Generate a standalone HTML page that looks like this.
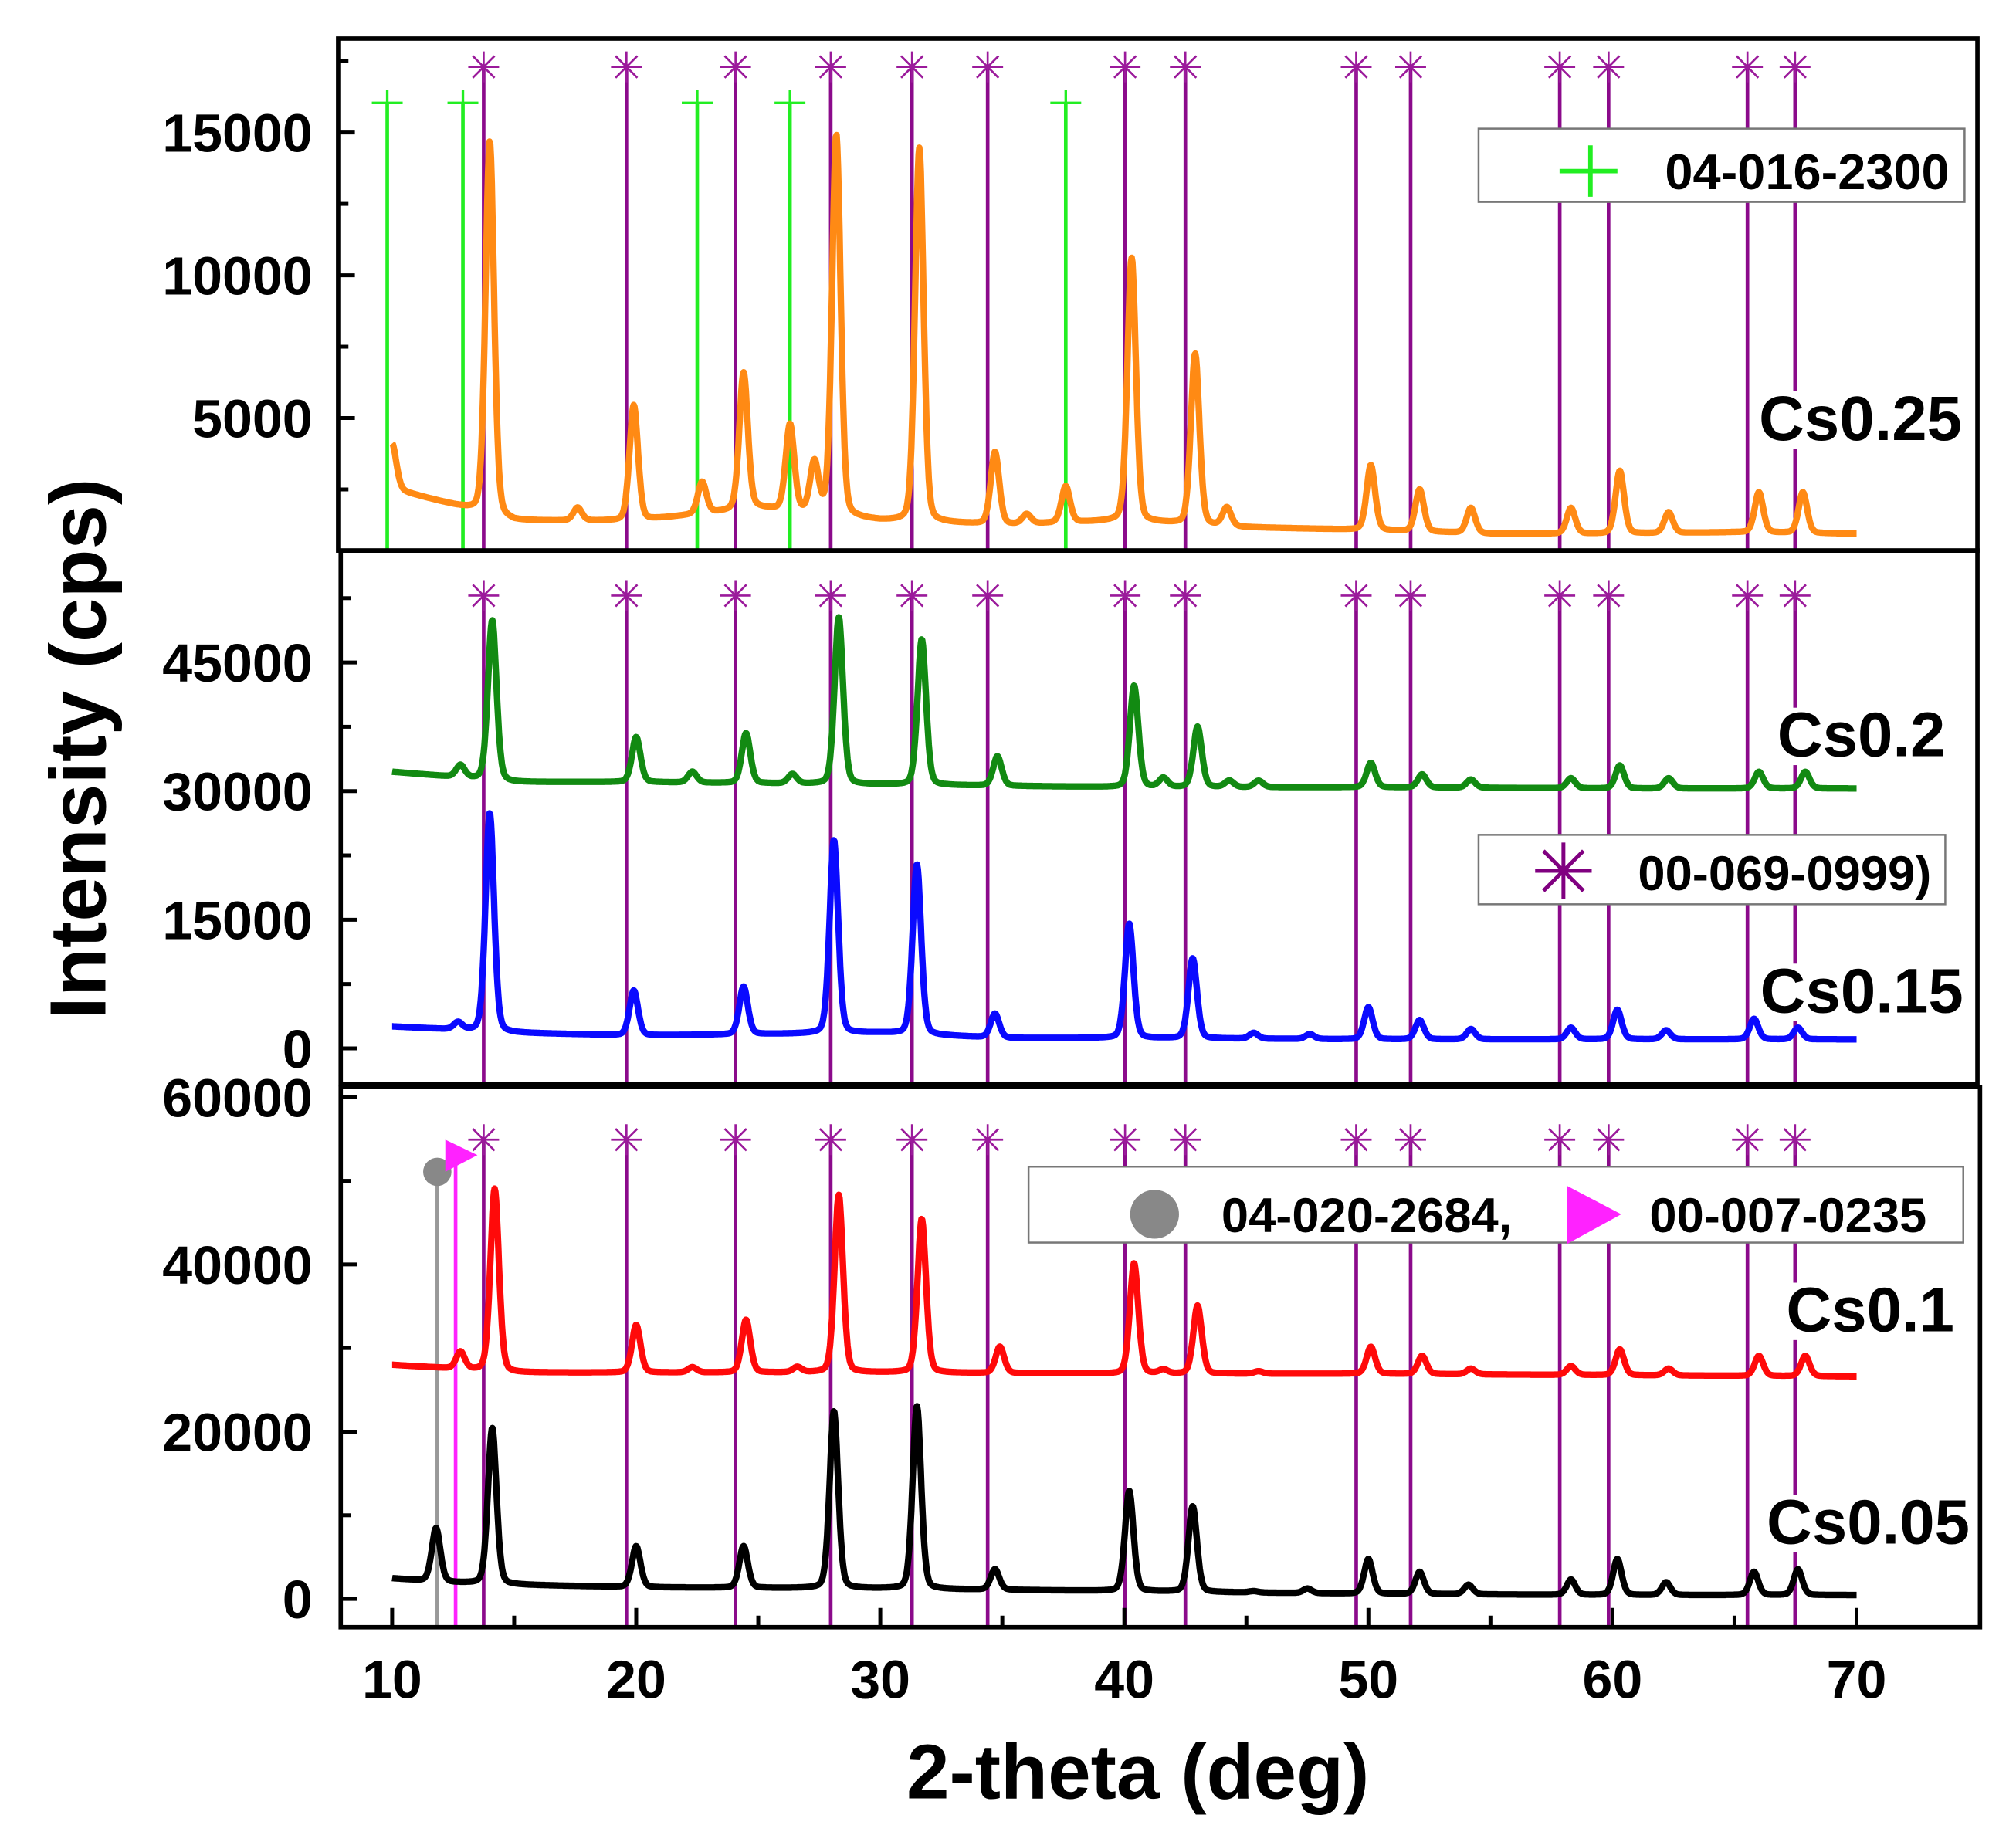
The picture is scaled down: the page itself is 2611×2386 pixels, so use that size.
<!DOCTYPE html>
<html><head><meta charset="utf-8"><style>
html,body{margin:0;padding:0;background:#fff;}
svg{display:block;font-family:"Liberation Sans",Arial,sans-serif;font-weight:bold;}
</style></head><body>
<svg id="chart" width="2611" height="2386" viewBox="0 0 1568 1432" preserveAspectRatio="none" xmlns="http://www.w3.org/2000/svg">
<defs>
<clipPath id="cTop"><rect x="263" y="30" width="1275" height="398"/></clipPath>
<clipPath id="cMid"><rect x="265" y="428" width="1273" height="415"/></clipPath>
<clipPath id="cBot"><rect x="265" y="845" width="1275" height="420"/></clipPath>
</defs>
<g id="refs"></g>
<g id="series"></g>
<g id="legends"></g>
<g id="axes"></g>
<text x="0" y="0" transform="translate(82,582) rotate(-90)" text-anchor="middle" font-size="62">Intensity (cps)</text>
<text x="885" y="1398" text-anchor="middle" font-size="60">2-theta (deg)</text>
</svg>
<script>
// ---- data ----
const xTicks = [10,20,30,40,50,60,70];
const topTicks = [5000,10000,15000];
const midTicks = [0,15000,30000,45000];
const botTicks = [0,20000,40000,60000];
const refMain = [13.75,19.6,24.07,27.97,31.3,34.4,40.03,42.5,49.5,51.73,57.84,59.84,65.53,67.48];
const refGreen = [9.8,12.9,22.5,26.3,37.6];
const refGray = [11.85];
const refMagenta = [12.6];

const cs025Base = [[10,2520],[12,2070],[15,1400],[20,1400],[25,1850],[30,1400],[35,1260],[40,1400],[45,1170],[50,1080],[55,950],[60,950],[65,1000],[70,950]];
const cs025Peaks = [[10.0,4100],[13.0,1850],[14.0,14700],[17.6,1850],[19.9,5450],[22.7,2750],[24.4,6580],[26.3,4750],[27.3,3400],[28.2,14900],[31.6,14450],[34.7,3800],[36.0,1620],[37.6,2600],[40.3,10600],[42.9,7250],[44.2,1850],[50.1,3350],[52.1,2500],[54.2,1850],[58.3,1850],[60.3,3150],[62.3,1700],[66.0,2400],[67.8,2400]];

const cs02Base = [[10,32250],[15,31050],[20,31050],[30,30750],[40,30450],[50,30450],[60,30300],[70,30300]];
const cs02Peaks = [[12.8,33000],[14.1,49950],[20.0,36300],[22.3,32250],[24.5,36750],[26.4,31950],[28.3,50250],[31.7,47700],[34.8,34050],[40.4,42300],[41.6,31500],[43.0,37500],[44.3,31200],[45.5,31200],[50.1,33300],[52.2,31950],[54.2,31350],[58.3,31500],[60.3,33000],[62.3,31500],[66.0,32250],[67.9,32250]];

const cs015Base = [[10,2550],[12,2250],[15,1800],[20,1500],[30,1800],[35,1200],[40,1200],[50,1050],[60,1050],[70,1050]];
const cs015Peaks = [[12.7,3000],[14.0,27450],[19.9,6750],[24.4,7200],[28.1,24300],[31.5,21450],[34.7,4050],[40.2,14550],[42.8,10500],[45.3,1800],[47.6,1650],[50.0,4800],[52.1,3300],[54.2,2250],[58.3,2400],[60.2,4500],[62.2,2100],[65.8,3450],[67.6,2400]];

const cs01Base = [[10,27990],[15,27070],[20,27070],[30,27070],[40,26920],[50,26920],[60,26760],[70,26610]];
const cs01Peaks = [[12.8,29530],[14.2,49070],[20.0,32760],[22.3,27690],[24.5,33380],[26.6,27690],[28.3,48300],[31.7,45450],[34.9,30150],[40.4,40150],[41.6,27380],[43.0,35070],[45.5,27220],[50.1,30150],[52.2,29070],[54.2,27530],[58.3,27840],[60.3,29840],[62.3,27530],[66.0,29070],[67.9,29070]];

const cs005Base = [[10,2460],[12,1990],[15,1690],[20,1380],[30,1230],[40,920],[50,610],[60,460],[70,460]];
const cs005Peaks = [[11.8,8460],[14.1,20460],[20.0,6300],[24.4,6300],[28.1,22450],[31.5,23070],[34.7,3540],[40.2,12920],[42.8,11070],[45.3,920],[47.5,1230],[50.0,4770],[52.1,3230],[54.1,1690],[58.3,2310],[60.2,4770],[62.2,1990],[65.8,3230],[67.6,3540]];

// ---- scales ----
const NS='http://www.w3.org/2000/svg';
const X = v => 305 + (v-10)*18.983;
const Ytop = v => 436 - v/5000*111;
const Ymid = v => 815 - v/15000*100;
const Ybot = v => 1243 - v/20000*130;

function mk(tag, attrs, parent){const e=document.createElementNS(NS,tag);for(const k in attrs)e.setAttribute(k,attrs[k]);parent.appendChild(e);return e;}
function baseAt(base,x){for(let i=0;i<base.length-1;i++){if(x<=base[i+1][0]){const t=(x-base[i][0])/(base[i+1][0]-base[i][0]);return base[i][1]+t*(base[i+1][1]-base[i][1]);}}return base[base.length-1][1];}
function profile(base,peaks,x){let v=baseAt(base,x);for(const p of peaks){const a=p[1]-baseAt(base,p[0]);const d=(x-p[0])/0.18;v+=a*(0.75*Math.exp(-0.5*d*d)+0.25/(1+d*d));}return v;}

const sg=document.getElementById('series');
function drawSeries(base,peaks,Y,color,clip,name){
  let d='';
  for(let x=10;x<=70.0001;x+=0.03){d+=(d?'L':'M')+X(x).toFixed(1)+','+Y(profile(base,peaks,x)).toFixed(1);}
  const p=mk('path',{d:d,fill:'none',stroke:color,'stroke-width':5,'stroke-linejoin':'round','clip-path':'url(#'+clip+')'},sg);
  
  
}

// reference lines
const rg=document.getElementById('refs');
const panels=[[52,428,'cTop'],[463,843,'cMid'],[886,1265,'cBot']];
function star(cx,cy,r,parent){
  let d='';for(let k=0;k<4;k++){const a=k*Math.PI/4;d+='M'+(cx-r*Math.cos(a))+','+(cy-r*Math.sin(a))+'L'+(cx+r*Math.cos(a))+','+(cy+r*Math.sin(a));}
  return mk('path',{d:d,stroke:'#9b1a9b','stroke-width':1.6,fill:'none'},parent);
}
panels.forEach(pn=>{
  refMain.forEach(v=>{
    const l=mk('line',{x1:X(v),x2:X(v),y1:pn[0],y2:pn[1],stroke:'#8b0a8b','stroke-width':2.8},rg);
    
    
    const s=star(X(v),pn[0],12,rg);
    
    
  });
});
refGreen.forEach(v=>{
  const l=mk('line',{x1:X(v),x2:X(v),y1:80,y2:428,stroke:'#22ee22','stroke-width':2.8},rg);
  
  
  const c=mk('path',{d:'M'+(X(v)-12)+',80H'+(X(v)+12)+'M'+X(v)+',70V92',stroke:'#22ee22','stroke-width':2},rg);
  
  
});
refGray.forEach(v=>{
  const l=mk('line',{x1:X(v),x2:X(v),y1:911,y2:1265,stroke:'#999','stroke-width':2.8},rg);
  
  
  const c=mk('circle',{cx:X(v),cy:911,r:11,fill:'#888'},rg);
  
  
});
refMagenta.forEach(v=>{
  const l=mk('line',{x1:X(v),x2:X(v),y1:898,y2:1265,stroke:'#ff22ff','stroke-width':2.8},rg);
  
  
  const t=mk('path',{d:'M'+(X(v)-8)+',886L'+(X(v)+17)+',898L'+(X(v)-8)+',911Z',fill:'#ff22ff'},rg);
  
  
});

drawSeries(cs025Base,cs025Peaks,Ytop,'#ff8a14','cTop','series-cs0.25');
drawSeries(cs02Base,cs02Peaks,Ymid,'#128a12','cMid','series-cs0.2');
drawSeries(cs015Base,cs015Peaks,Ymid,'#0a0aff','cMid','series-cs0.15');
drawSeries(cs01Base,cs01Peaks,Ybot,'#ff0a0a','cBot','series-cs0.1');
drawSeries(cs005Base,cs005Peaks,Ybot,'#000','cBot','series-cs0.05');

// axes / frames
const ag=document.getElementById('axes');
[[263,30,1275,398,'top-panel-frame'],[265,428,1273,415,'middle-panel-frame'],[265,845,1275,420,'bottom-panel-frame']].forEach(f=>{
  const r=mk('rect',{x:f[0],y:f[1],width:f[2],height:f[3],fill:'none',stroke:'#000','stroke-width':3.4},ag);
  
  
});
function yAxis(ticks,Y,step,x0,lo,hi,name){
  ticks.forEach(v=>{
    mk('line',{x1:x0,x2:x0+13,y1:Y(v),y2:Y(v),stroke:'#000','stroke-width':3},ag);
    const t=mk('text',{x:243,y:Y(v)+15,'text-anchor':'end','font-size':42},ag);
    t.textContent=v;
    
    
  });
  for(let v=ticks[0]+step/2-step;v<=ticks[ticks.length-1]+step;v+=step){
    const y=Y(v); if(y<lo||y>hi) continue;
    mk('line',{x1:x0,x2:x0+8,y1:y,y2:y,stroke:'#000','stroke-width':3},ag);
  }
}
yAxis(topTicks,Ytop,5000,263,35,425,'top-y');
yAxis(midTicks,Ymid,15000,265,432,840,'mid-y');
yAxis(botTicks,Ybot,20000,265,849,1262,'bot-y');
xTicks.forEach(v=>{
  mk('line',{x1:X(v),x2:X(v),y1:1265,y2:1250,stroke:'#000','stroke-width':3},ag);
  if(v<70) mk('line',{x1:X(v+5),x2:X(v+5),y1:1265,y2:1256,stroke:'#000','stroke-width':3},ag);
  const t=mk('text',{x:X(v),y:1320,'text-anchor':'middle','font-size':42},ag);
  t.textContent=v;
  
  
});

// legends and sample labels
const lg=document.getElementById('legends');
function box(x,y,w,h,name){const r=mk('rect',{x:x,y:y,width:w,height:h,fill:'#fff',stroke:'#777','stroke-width':1.5},lg);}
function txt(s,x,y,size,anchor,name){const t=mk('text',{x:x,y:y,'font-size':size,'text-anchor':anchor||'start'},lg);t.textContent=s;return t;}
box(1150,100,378,57,'legend-box-04-016-2300');
mk('path',{d:'M1213,133H1258M1237,113V153',stroke:'#22ee22','stroke-width':3.5},lg);
txt('04-016-2300',1295,147,39,'start','legend-text-04-016-2300');
box(1150,649,363,54,'legend-box-00-069-0999');
(function(){const s=star(1216,677,22,lg);s.setAttribute('stroke','#800080');s.setAttribute('stroke-width','3');})();
txt('00-069-0999)',1274,692,38,'start','legend-text-00-069-0999');
box(800,907,727,59,'legend-box-bottom');
mk('circle',{cx:898,cy:944,r:19,fill:'#888'},lg);
txt('04-020-2684,',950,958,38,'start','legend-text-04-020-2684');
mk('path',{d:'M1219,922L1261,944L1219,967Z',fill:'#ff22ff'},lg);
txt('00-007-0235',1283,958,38,'start','legend-text-00-007-0235');

[['Cs0.25',1526,342,'label-cs0.25'],['Cs0.2',1513,588,'label-cs0.2'],['Cs0.15',1527,787,'label-cs0.15'],['Cs0.1',1520,1035,'label-cs0.1'],['Cs0.05',1532,1200,'label-cs0.05']].forEach(l=>{
  const t=txt(l[0],l[1],l[2],49,'end',l[3]);
  const bb=t.getBBox();
  const r=document.createElementNS(NS,'rect');
  r.setAttribute('x',bb.x);r.setAttribute('y',bb.y+6);r.setAttribute('width',bb.width);r.setAttribute('height',bb.height-10);r.setAttribute('fill','#fff');
  
  
  lg.insertBefore(r,t);
});
</script>
</body></html>
